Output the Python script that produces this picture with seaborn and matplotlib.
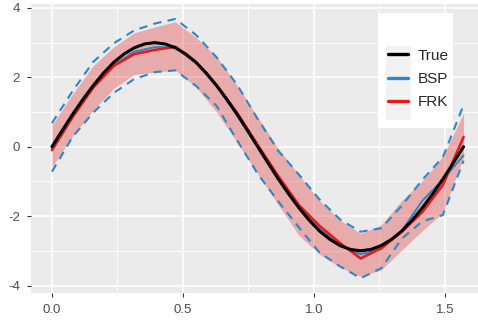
import numpy as np
import pandas as pd
import seaborn as sns
import matplotlib
matplotlib.use("Agg")
import matplotlib.pyplot as plt
from matplotlib.patches import Rectangle

# true curve, finer grid
x_true = [0.0, 0.0393, 0.0785, 0.1178, 0.1571, 0.1963, 0.2356, 0.2749, 0.3142, 0.3534,
          0.3927, 0.4320, 0.4712, 0.5105, 0.5498, 0.5890, 0.6283, 0.6676, 0.7069, 0.7461,
          0.7854, 0.8247, 0.8639, 0.9032, 0.9425, 0.9817, 1.0210, 1.0603, 1.0996, 1.1388,
          1.1781, 1.2174, 1.2566, 1.2959, 1.3352, 1.3744, 1.4137, 1.4530, 1.4923, 1.5315, 1.5708]
y_true = [0.0, 0.47, 0.93, 1.36, 1.76, 2.12, 2.43, 2.67, 2.85, 2.96,
          3.0, 2.96, 2.85, 2.67, 2.43, 2.12, 1.76, 1.36, 0.93, 0.47,
          0.0, -0.47, -0.93, -1.36, -1.76, -2.12, -2.43, -2.67, -2.85, -2.96,
          -3.0, -2.96, -2.85, -2.67, -2.43, -2.12, -1.76, -1.36, -0.93, -0.47, 0.0]

# estimates, coarser grid
x_est = [0.0, 0.0785, 0.157, 0.236, 0.314, 0.393, 0.471, 0.550, 0.628, 0.707, 0.785,
         0.864, 0.942, 1.021, 1.100, 1.178, 1.257, 1.335, 1.414, 1.492, 1.571]
frk_mean = [-0.10, 0.85, 1.70, 2.33, 2.67, 2.79, 2.88, 2.43, 1.78, 0.97, 0.05,
            -0.85, -1.68, -2.28, -2.78, -3.22, -2.92, -2.45, -1.88, -1.10, 0.28]
frk_lo = [-0.58, 0.30, 1.05, 1.68, 2.08, 2.15, 2.20, 1.72, 1.00, 0.12, -0.78,
          -1.68, -2.55, -3.10, -3.48, -3.74, -3.55, -2.98, -2.42, -1.90, -0.30]
frk_hi = [0.62, 1.52, 2.33, 2.88, 3.28, 3.45, 3.60, 3.15, 2.60, 1.76, 0.86,
          -0.06, -0.80, -1.55, -2.12, -2.50, -2.25, -1.55, -0.98, -0.28, 0.97]
bsp_mean = [-0.05, 0.90, 1.72, 2.35, 2.74, 2.87, 2.86, 2.42, 1.75, 0.90, -0.02,
            -0.92, -1.74, -2.36, -2.84, -3.10, -2.95, -2.42, -1.55, -0.95, -0.25]
bsp_lo = [-0.72, 0.28, 0.98, 1.55, 1.95, 2.15, 2.20, 1.75, 1.18, 0.18, -0.78,
          -1.58, -2.32, -3.05, -3.45, -3.79, -3.50, -2.65, -2.15, -1.97, -0.40]
bsp_hi = [0.68, 1.60, 2.44, 2.98, 3.35, 3.55, 3.68, 3.22, 2.58, 1.78, 0.80,
          -0.12, -0.80, -1.52, -2.10, -2.45, -2.35, -1.70, -0.95, -0.30, 1.20]

labels = ["True", "BSP", "FRK"]
colors = {"True": "black", "BSP": "#2E86C8", "FRK": "#E41A1C"}

sns.set_theme(style="darkgrid", rc={
    "axes.facecolor": "#EBEBEB",
    "grid.color": "white",
    "axes.edgecolor": "#EBEBEB",
})
plt.rcParams["font.family"] = ["Liberation Sans", "DejaVu Sans"]

fig = plt.figure(figsize=(4.78, 3.2), dpi=100)
ax = fig.add_axes([31 / 478, 1 - 293 / 320, 447 / 478, 289 / 320])

# FRK ribbon
ax.fill_between(x_est, frk_lo, frk_hi, color=colors["FRK"], alpha=0.3, linewidth=0, zorder=2)

# BSP interval
sns.lineplot(x=x_est, y=bsp_lo, ax=ax, color=colors["BSP"], linewidth=1.5, zorder=3)
sns.lineplot(x=x_est, y=bsp_hi, ax=ax, color=colors["BSP"], linewidth=1.5, zorder=3)
for ln in ax.lines[-2:]:
    ln.set_dashes((4, 3))

sns.lineplot(x=x_est, y=bsp_mean, ax=ax, color=colors["BSP"], linewidth=1.4, zorder=4, label="BSP")
sns.lineplot(x=x_est, y=frk_mean, ax=ax, color=colors["FRK"], linewidth=1.9, zorder=5, label="FRK")
sns.lineplot(x=x_true, y=y_true, ax=ax, color=colors["True"], linewidth=2.2, zorder=6, label="True")

ax.set_xlim(-0.080, 1.626)
ax.set_ylim(-4.216, 4.112)
ax.set_xticks([0, 0.5, 1.0, 1.5])
ax.set_xticklabels(["0.0", "0.5", "1.0", "1.5"])
ax.set_yticks([-4, -2, 0, 2, 4])
ax.set_yticklabels(["-4", "-2", "0", "2", "4"])
ax.set_xticks([0.25, 0.75, 1.25], minor=True)
ax.set_yticks([-3, -1, 1, 3], minor=True)
ax.grid(True, which="major", color="white", linewidth=1.1)
ax.grid(True, which="minor", color="white", linewidth=0.55)
ax.tick_params(axis="both", which="major", labelsize=9.5, labelcolor="#4D4D4D",
               color="#333333", length=3, width=0.8, pad=5, left=True, bottom=True)
ax.tick_params(axis="both", which="minor", length=0)
ax.set_xlabel("")
ax.set_ylabel("")
for s in ax.spines.values():
    s.set_visible(False)

# legend box
ax.add_patch(Rectangle((0.776, 0.571), 0.168, 0.398, transform=ax.transAxes,
                       facecolor="white", edgecolor="none", zorder=7))
ax.add_patch(Rectangle((0.794, 0.599), 0.056, 0.256, transform=ax.transAxes,
                       facecolor="#F2F2F2", edgecolor="none", zorder=7))
handles, labs = ax.get_legend_handles_labels()
order = [labs.index(l) for l in labels]
leg = ax.legend([handles[i] for i in order], labels, loc="upper left",
                bbox_to_anchor=(0.799, 0.845), frameon=False, fontsize=11,
                handlelength=1.3, handletextpad=0.65, labelspacing=0.6,
                borderpad=0, borderaxespad=0)
leg.set_zorder(8)
for h in leg.get_lines():
    h.set_linewidth(2.4)

fig.savefig("out.png", dpi=100)
